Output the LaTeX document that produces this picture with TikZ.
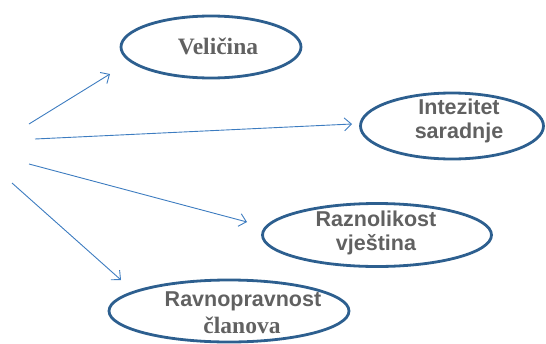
\documentclass[tikz,border=0pt]{standalone}
\usepackage{fontspec}
\setmainfont{Liberation Serif}
\setsansfont{Liberation Sans}
\usetikzlibrary{shapes.geometric,arrows.meta}
\definecolor{rim}{HTML}{2D5F8F}
\definecolor{ray}{HTML}{3D7CC0}
\definecolor{ink}{HTML}{616161}
\tikzset{
  oval/.style={ellipse, draw=rim, line width=2.8pt, inner sep=0pt},
  lbl/.style={text=ink, align=center, inner sep=0pt},
  sanstext/.style={lbl, font=\fontsize{21.5}{24.5}\selectfont\bfseries\sffamily},
  seriftext/.style={lbl, font=\fontsize{23.5}{25}\selectfont\bfseries\rmfamily},
  ray/.style={draw=ray, line width=0.9pt, -{Straight Barb[length=7pt,width=13pt,line width=0.9pt]}}
}
\begin{document}
\begin{tikzpicture}[x=1pt,y=-1pt]
\useasboundingbox (0,0) rectangle (546,343);
% ovals
\node[oval, minimum width=180pt, minimum height=62pt] (o1) at (211,47) {};
\node[oval, minimum width=183pt, minimum height=66pt] (o2) at (452,126) {};
\node[oval, minimum width=229pt, minimum height=63pt] (o3) at (377,235) {};
\node[oval, minimum width=240pt, minimum height=62pt] (o4) at (229,311) {};
% captions
\node[seriftext] (t1) at (218,46) {Veličina};
\node[sanstext] (t2) at (459,121) {Intezitet\\saradnje};
\node[sanstext] (t3) at (376,233) {Raznolikost\\vještina};
\node[sanstext] (t4a) at (243,301) {Ravnopravnost};
\node[seriftext] (t4b) at (242,325) {članova};
% ray ends
\coordinate (s1) at (29,124);  \coordinate (e1) at (110,74);
\coordinate (s2) at (35,139);  \coordinate (e2) at (352,124);
\coordinate (s3) at (29,164);  \coordinate (e3) at (247,222);
\coordinate (s4) at (12,183);  \coordinate (e4) at (121,280);
\draw[ray] (s1) -- (e1);
\draw[ray] (s2) -- (e2);
\draw[ray] (s3) -- (e3);
\draw[ray] (s4) -- (e4);
\end{tikzpicture}
\end{document}
